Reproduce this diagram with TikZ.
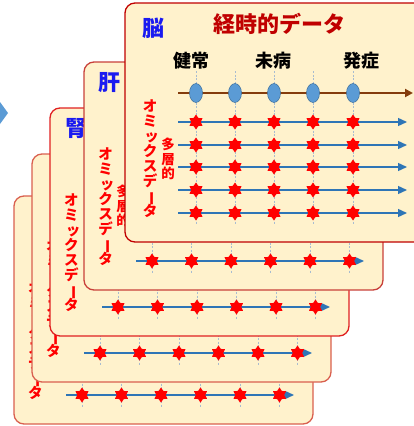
\documentclass[tikz,border=0pt]{standalone}
\usepackage{fontspec}
\usepackage{graphicx}
\setmainfont{Noto Sans CJK JP}
\usetikzlibrary{shapes.geometric,arrows.meta}
\definecolor{cardfill}{HTML}{FFF2CC}
\definecolor{rowblue}{HTML}{2E75B6}
\definecolor{ellblue}{HTML}{5B9BD5}
\definecolor{ellline}{HTML}{41719C}
\definecolor{axbrown}{HTML}{843C0C}
\definecolor{dashc}{HTML}{A8BCD0}
\definecolor{titlered}{HTML}{C00000}
\definecolor{organblue}{HTML}{1A1AF0}
\definecolor{bordA}{HTML}{D9604F}
\definecolor{bordB}{HTML}{E02020}
\definecolor{bordC}{HTML}{C8403A}
\tikzset{
 card/.style={fill=cardfill, line width=1.3pt, rounded corners=10pt},
 redstar/.style={star, star points=6, star point ratio=1.6, minimum size=15pt, inner sep=0pt, fill=red, draw=none},
 rowline/.style={rowblue, line width=1.4pt, -{Triangle[length=9pt,width=8pt]}},
 axisline/.style={axbrown, line width=2.5pt, -{Triangle[length=8pt,width=8pt]}},
 vguide/.style={dashc, line width=0.7pt, dash pattern=on 2pt off 1.5pt},
 vtext/.style={red, font=\fontsize{14.5}{15}\selectfont\bfseries, align=center, inner sep=0pt, anchor=north},
 vsmall/.style={red, font=\fontsize{13.5}{14.5}\selectfont\bfseries, align=center, inner sep=0pt, anchor=north},
 organ/.style={organblue, font=\fontsize{22}{22}\selectfont\bfseries, inner sep=0pt},
 stage/.style={black, font=\fontsize{18}{18}\selectfont\bfseries, inner sep=0pt},
 timept/.style={ellipse, fill=ellblue, draw=ellline, line width=0.5pt, minimum width=13pt, minimum height=19pt, inner sep=0pt},
}
\newcommand\omicstext{オ\\ミ\\\hspace*{3pt}ッ\\ク\\ス\\デ\\\raisebox{0pt}[12pt][2pt]{\rotatebox[origin=c]{-90}{ー}}\\タ}
% #1 left, #2 top, #3 border colour, #4 name prefix
\newcommand\backcard[4]{%
 \begin{scope}[shift={(#1,#2)}]
  \draw[card, draw=#3] (0,0) rectangle (299,228);
  \node[vtext] (#4v) at (21.5,86) {\omicstext};
  \foreach \i in {0,...,5} {\draw[vguide] (68+39.5*\i,170) -- (68+39.5*\i,211);}
  \coordinate (#4a) at (52,199);
  \coordinate (#4b) at (280,199);
  \draw[rowline] (#4a) -- (#4b);
  \foreach \i in {0,...,5} {\node[redstar] (#4s\i) at (68+39.5*\i,199) {};}
 \end{scope}}
\begin{document}
\begin{tikzpicture}[x=1pt,y=-1pt]
\useasboundingbox (0,0) rectangle (413,426);
% left arrow tip
\fill[ellblue] (0,102) -- (8,113) -- (0,124) -- cycle;
% back cards
\backcard{14}{196}{bordA}{c1}
\backcard{32}{154}{bordA}{c2}
\backcard{50}{108}{bordB}{c3}
\node[organ] (jin) at (76,128) {腎};
\backcard{84}{62}{bordC}{c4}
\node[organ] (kan) at (109,83) {肝};
\node[vsmall] (c4m) at (123,185) {多\\層\\的};
% front card
\draw[card, draw=titlered] (125,3) rectangle (445,242);
\node[organ] (nou) at (153,28) {脳};
\node[text=titlered, font=\fontsize{22}{22}\selectfont\bfseries, inner sep=0pt] (ttl) at (279,24) {経時的データ};
\node[stage] (st1) at (191,61) {健常};
\node[stage] (st2) at (273,61) {未病};
\node[stage] (st3) at (361,61) {発症};
\foreach \x in {196,235,274,313,353} {\draw[vguide] (\x,71) -- (\x,224);}
\coordinate (axa) at (178,93);
\coordinate (axb) at (413,93);
\draw[axisline] (axa) -- (axb);
\foreach \x [count=\k] in {196,235,274,313,353} {\node[timept] (t\k) at (\x,93) {};}
\foreach \y [count=\r] in {122,145,167,190,213} {
  \coordinate (ra\r) at (178,\y);
  \coordinate (rb\r) at (407,\y);
  \draw[rowline] (ra\r) -- (rb\r);
  \foreach \x [count=\k] in {196,235,274,313,353} {\node[redstar] (s\r-\k) at (\x,\y) {};}
}
\node[vtext] (c5v) at (150,100) {\omicstext};
\node[vsmall] (c5m) at (168,138) {多\\層\\的};
\end{tikzpicture}
\end{document}
